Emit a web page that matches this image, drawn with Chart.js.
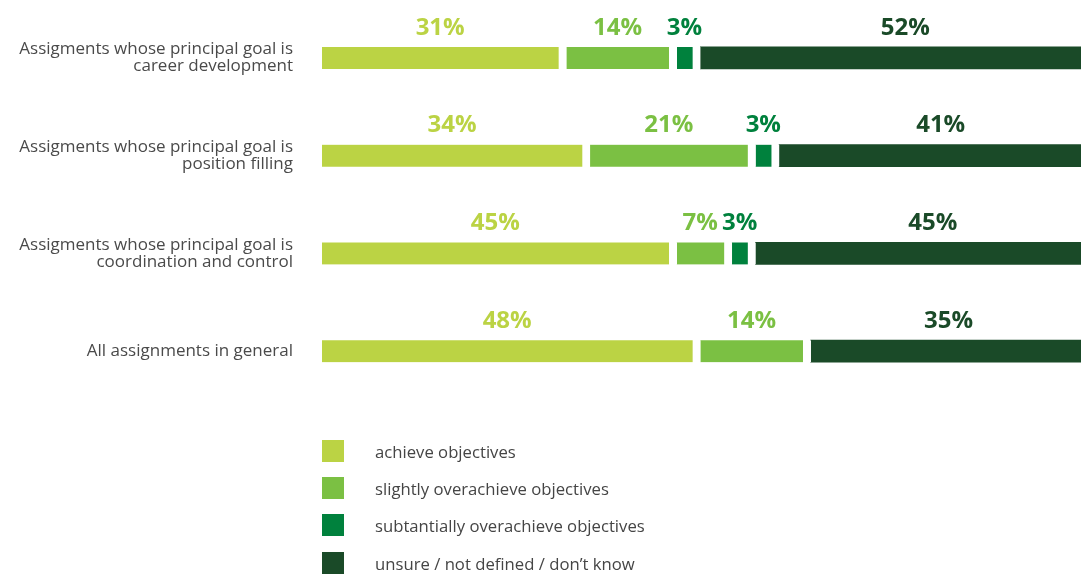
<!DOCTYPE html>
<html>
<head>
<meta charset="utf-8">
<script src="https://cdn.jsdelivr.net/npm/chart.js@4.4.1/dist/chart.umd.min.js"></script>
<style>
  html, body { margin: 0; padding: 0; background: #fff; }
  #wrap { position: relative; width: 1081px; height: 576px; overflow: hidden; }
  #chart { position: absolute; left: 0; top: 0; }
  #legend { position: absolute; left: 322px; top: 440px; font-family: 'Open Sans', sans-serif; font-size: 16.7px; color: #454545; }
  .item { position: relative; height: 22px; margin-bottom: 15.2px; }
  .sw { position: absolute; left: 0; top: 0; width: 22px; height: 22px; }
  .tx { position: absolute; left: 53px; top: 1px; line-height: 22px; white-space: nowrap; }
</style>
</head>
<body>
<div id="wrap">
  <canvas id="chart" width="1081" height="576"></canvas>
  <div id="legend"></div>
</div>
<script>
// Rows of the survey, top to bottom
const categories = [
  ['Assigments whose principal goal is', 'career development'],
  ['Assigments whose principal goal is', 'position filling'],
  ['Assigments whose principal goal is', 'coordination and control'],
  ['All assignments in general']
];

// Share of answers (%) per outcome
const achieve = [31, 34, 45, 48];
const slightlyOver = [14, 21, 7, 14];
const substantiallyOver = [3, 3, 3, null];
const unsure = [52, 41, 45, 35];

const seriesNames = [
  'achieve objectives',
  'slightly overachieve objectives',
  'subtantially overachieve objectives',
  'unsure / not defined / don\u2019t know'
];
const seriesColors = ['#bbd344', '#7bc043', '#00813d', '#1a4a28'];
const seriesValues = [achieve, slightlyOver, substantiallyOver, unsure];

const GAP = 8;
const lastIndex = seriesValues.length - 1;

const datasets = seriesValues.map((vals, i) => ({
  label: seriesNames[i],
  data: vals,
  backgroundColor: seriesColors[i],
  borderColor: '#ffffff',
  borderWidth: { right: i === lastIndex ? 0 : GAP, left: 0, top: 0, bottom: 0 },
  borderSkipped: false,
  barThickness: 22
}));

// Percentage labels above each segment, in the segment colour
const valueLabels = {
  id: 'valueLabels',
  afterDatasetsDraw(chart) {
    const ctx = chart.ctx;
    ctx.save();
    ctx.font = "bold 24px 'Open Sans'";
    ctx.textAlign = 'center';
    ctx.textBaseline = 'middle';
    chart.data.datasets.forEach((ds, di) => {
      const meta = chart.getDatasetMeta(di);
      const gap = di === lastIndex ? 0 : GAP;
      meta.data.forEach((el, i) => {
        const v = ds.data[i];
        if (v === null || v === undefined) return;
        const left = Math.min(el.base, el.x);
        const right = Math.max(el.base, el.x) - gap;
        ctx.fillStyle = ds.backgroundColor;
        ctx.fillText(v + '%', (left + right) / 2, el.y - 30);
      });
    });
    ctx.restore();
  }
};

Chart.defaults.font.family = "'Open Sans', sans-serif";

new Chart(document.getElementById('chart'), {
  type: 'bar',
  data: { labels: categories, datasets },
  options: {
    indexAxis: 'y',
    responsive: false,
    animation: false,
    layout: { padding: { top: 9, bottom: 176, left: 0, right: 0 } },
    plugins: { legend: { display: false }, tooltip: { enabled: false } },
    scales: {
      x: {
        stacked: true,
        display: false,
        min: 0,
        max: 96.3
      },
      y: {
        stacked: true,
        grid: { display: false, drawTicks: false },
        border: { display: false },
        afterFit(scale) {
          scale.width = 322;
          scale.paddingTop = 0;
          scale.paddingBottom = 0;
        },
        ticks: {
          padding: 29,
          color: '#4a4a4a',
          font: { size: 17, lineHeight: 1.0 }
        }
      }
    }
  },
  plugins: [valueLabels]
});

// Legend list
const legend = document.getElementById('legend');
seriesNames.forEach((name, i) => {
  const item = document.createElement('div');
  item.className = 'item';
  const sw = document.createElement('div');
  sw.className = 'sw';
  sw.style.background = seriesColors[i];
  const tx = document.createElement('div');
  tx.className = 'tx';
  tx.textContent = name;
  item.appendChild(sw);
  item.appendChild(tx);
  legend.appendChild(item);
});
</script>
</body>
</html>
